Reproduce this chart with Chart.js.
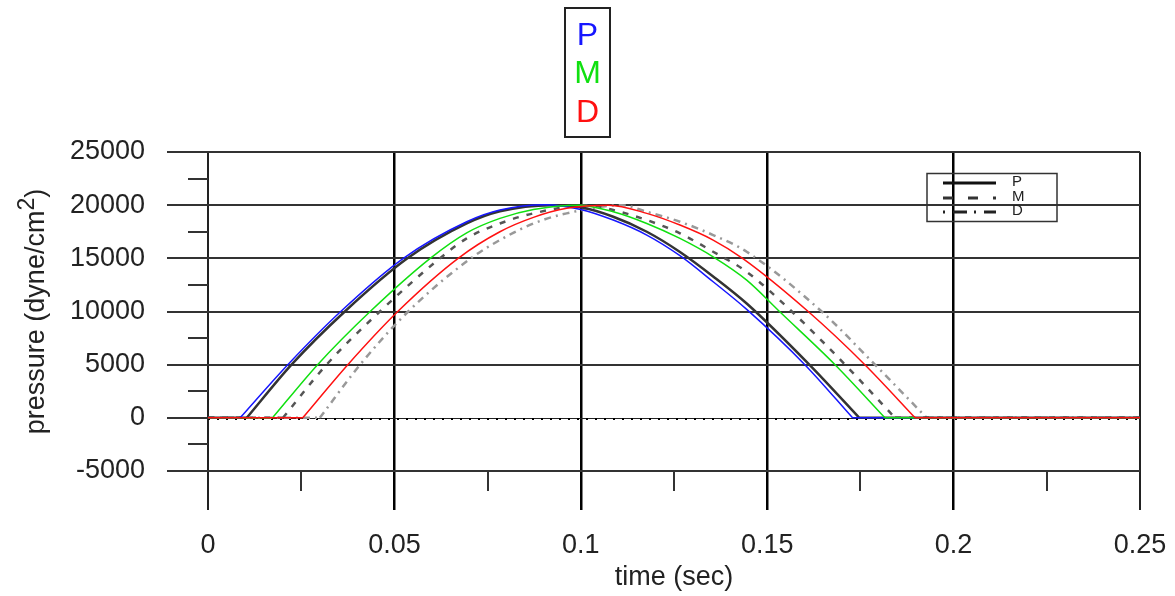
<!DOCTYPE html>
<html>
<head>
<meta charset="utf-8">
<title>pressure pulses</title>
<script src="https://cdn.jsdelivr.net/npm/chart.js@4.4.1/dist/chart.umd.min.js"></script>
<style>
    html, body { margin: 0; padding: 0; background: #fff; }
</style>
</head>
<body>
<canvas id="pulseChart" width="1175" height="596"></canvas>
<script>
// Druckpulse (Zeit in s, Druck in dyne/cm^2)
// farbige Kurven: P, M, D
const tBlauP  = [0.0086, 0.0214, 0.0356, 0.0524, 0.0694, 0.0783, 0.0905, 0.1000, 0.1087, 0.1177, 0.1266, 0.1355, 0.1445, 0.1601, 0.1729];
const pBlauP  = [0, 5000, 10000, 15000, 18440, 19540, 20050, 19600, 18600, 17190, 15250, 12800, 10200, 5000, 0];
const tGruenM = [0.0173, 0.0294, 0.0435, 0.0596, 0.0694, 0.0783, 0.0873, 0.0995, 0.1087, 0.1177, 0.1266, 0.1355, 0.1445, 0.1533, 0.1682, 0.1816];
const pGruenM = [0, 5000, 10000, 15000, 17400, 18760, 19600, 20000, 19380, 18280, 16870, 15140, 12950, 10000, 5000, 0];
const tRotD   = [0.0254, 0.0375, 0.0509, 0.0671, 0.0783, 0.0873, 0.0962, 0.1075, 0.1177, 0.1266, 0.1355, 0.1434, 0.1610, 0.1762, 0.1897];
const pRotD   = [0, 5000, 10000, 15000, 17500, 18850, 19700, 20000, 19230, 18130, 16720, 15000, 10000, 5000, 0];

// graue Kurven: P (durchgezogen), M (gestrichelt), D (strichpunktiert)
const tGrauP = [0.0104, 0.0224, 0.0367, 0.0535, 0.0694, 0.0783, 0.0920, 0.1000, 0.1087, 0.1177, 0.1266, 0.1355, 0.1445, 0.1613, 0.1747];
const pGrauP = [0, 5000, 10000, 15000, 18280, 19420, 20000, 19800, 18910, 17500, 15600, 13300, 10750, 5000, 0];
const tGrauM = [0.0201, 0.0318, 0.0461, 0.0622, 0.0694, 0.0783, 0.0873, 0.1020, 0.1087, 0.1177, 0.1266, 0.1355, 0.1445, 0.1566, 0.1709, 0.1843];
const pGrauM = [0, 5000, 10000, 15000, 16880, 18280, 19230, 20000, 19540, 18600, 17350, 15620, 13730, 10000, 5000, 0];
const tGrauD = [0.0300, 0.0408, 0.0537, 0.0705, 0.0783, 0.0873, 0.0962, 0.1110, 0.1177, 0.1266, 0.1355, 0.1445, 0.1646, 0.1789, 0.1928];
const pGrauD = [0, 5000, 10000, 15000, 16720, 18280, 19230, 20000, 19380, 18440, 17190, 15620, 10000, 5000, 0];

// Achsen
const xMin = 0, xMax = 0.25, xStep = 0.025, xMajor = 0.05;
const yMin = -5000, yMax = 25000, yStep = 2500, yMajor = 5000;
const xTitel = "time (sec)";
const yTitelTeile = ["pressure (dyne/cm", "2", ")"];
const legendeNamen = ["P", "M", "D"];
const legendeFarben = ["#1616ff", "#10e010", "#ff1010"];

const FONT = "'Liberation Sans', Arial, sans-serif";

/**
 * Baut die Punktliste eines Pulses: Nulllinie vorn und hinten,
 * dazwischen eine Lücke, damit Anfang und Ende als Knick erhalten bleiben.
 */
function pulsDaten(zeiten, werte) {
    const t0 = zeiten[0];
    const t1 = zeiten[zeiten.length - 1];
    const daten = [{ x: xMin, y: 0 }, { x: t0, y: 0 }, { x: t0, y: null }];
    zeiten.forEach((t, i) => daten.push({ x: t, y: werte[i] }));
    daten.push({ x: t1, y: null }, { x: t1, y: 0 }, { x: xMax, y: 0 });
    return daten;
}

function istMajor(v, schritt) {
    return Math.abs(v / schritt - Math.round(v / schritt)) < 1e-6;
}

function istRand(v) {
    return Math.abs(v - xMin) < 1e-6 || Math.abs(v - xMax) < 1e-6;
}

// Nebenstriche, gepunktete Nulllinie
const nebenStriche = {
    id: "nebenStriche",
    beforeDatasetsDraw(chart) {
        const { ctx, chartArea, scales } = chart;
        ctx.save();
        ctx.strokeStyle = "#333";
        ctx.lineWidth = 2;
        ctx.beginPath();
        scales.y.ticks.forEach(tick => {
            if (istMajor(tick.value, yMajor)) return;
            const py = Math.round(scales.y.getPixelForValue(tick.value));
            ctx.moveTo(chartArea.left - 20, py);
            ctx.lineTo(chartArea.left, py);
        });
        scales.x.ticks.forEach(tick => {
            if (istMajor(tick.value, xMajor)) return;
            const px = Math.round(scales.x.getPixelForValue(tick.value));
            ctx.moveTo(px, chartArea.bottom);
            ctx.lineTo(px, chartArea.bottom + 20);
        });
        ctx.stroke();

        // Nulllinie: dünne Linie mit kleinen Punkten darunter
        const y0 = Math.round(scales.y.getPixelForValue(0));
        ctx.strokeStyle = "#222";
        ctx.lineWidth = 1;
        ctx.beginPath();
        ctx.moveTo(chartArea.left, y0 + 0.5);
        ctx.lineTo(chartArea.right, y0 + 0.5);
        ctx.stroke();
        ctx.strokeStyle = "#000";
        ctx.lineWidth = 2;
        ctx.setLineDash([2, 7]);
        ctx.beginPath();
        ctx.moveTo(chartArea.left, y0 + 1);
        ctx.lineTo(chartArea.right, y0 + 1);
        ctx.stroke();
        ctx.restore();
    }
};

// y-Titel mit hochgestellter 2, Legenden oben und rechts
const beschriftung = {
    id: "beschriftung",
    afterDraw(chart) {
        const { ctx, chartArea } = chart;
        ctx.save();

        // y-Achsentitel
        ctx.translate(37, (chartArea.top + chartArea.bottom) / 2);
        ctx.rotate(-Math.PI / 2);
        ctx.fillStyle = "#222";
        ctx.textBaseline = "middle";
        ctx.textAlign = "left";
        ctx.font = "27px " + FONT;
        const w1 = ctx.measureText(yTitelTeile[0]).width;
        const w3 = ctx.measureText(yTitelTeile[2]).width;
        ctx.font = "23px " + FONT;
        const w2 = ctx.measureText(yTitelTeile[1]).width;
        let x = -(w1 + w2 + w3) / 2;
        ctx.font = "27px " + FONT;
        ctx.fillText(yTitelTeile[0], x, 0);
        x += w1;
        ctx.font = "23px " + FONT;
        ctx.fillText(yTitelTeile[1], x, -9);
        x += w2;
        ctx.font = "27px " + FONT;
        ctx.fillText(yTitelTeile[2], x, 0);
        ctx.setTransform(1, 0, 0, 1, 0, 0);

        // Kasten oben mit farbigen Namen
        ctx.strokeStyle = "#222";
        ctx.lineWidth = 2;
        ctx.strokeRect(565, 8, 45, 129);
        ctx.font = "32px " + FONT;
        ctx.textAlign = "center";
        ctx.textBaseline = "alphabetic";
        legendeNamen.forEach((name, i) => {
            ctx.fillStyle = legendeFarben[i];
            ctx.fillText(name, 587.5, 45 + i * 38.3);
        });

        // Legende rechts mit Linienarten
        ctx.lineWidth = 1.5;
        ctx.strokeStyle = "#333";
        ctx.strokeRect(927, 173.5, 130, 48);
        const muster = [[], [10, 15], [2, 8, 14, 7]];
        const farben = ["#111", "#333", "#222"];
        const zeilenY = [183, 198, 212];
        ctx.font = "15px " + FONT;
        ctx.textAlign = "left";
        ctx.textBaseline = "middle";
        legendeNamen.forEach((name, i) => {
            ctx.setLineDash(muster[i]);
            ctx.strokeStyle = farben[i];
            ctx.lineWidth = 3;
            ctx.beginPath();
            ctx.moveTo(943, zeilenY[i]);
            ctx.lineTo(996, zeilenY[i]);
            ctx.stroke();
            ctx.setLineDash([]);
            ctx.fillStyle = "#222";
            ctx.fillText(name, 1012, zeilenY[i] - 1);
        });
        ctx.restore();
    }
};

function linie(daten, farbe, breite, strich) {
    return {
        data: daten,
        borderColor: farbe,
        borderWidth: breite,
        borderDash: strich || [],
        pointRadius: 0,
        fill: false,
        spanGaps: false,
        cubicInterpolationMode: "monotone"
    };
}

function initChart() {
    const canvas = document.getElementById("pulseChart");
    const ctx = canvas.getContext("2d");

    // erster Datensatz liegt oben
    const datasets = [
        linie(pulsDaten(tRotD, pRotD), "#ff1010", 1.5),
        linie(pulsDaten(tGruenM, pGruenM), "#10e010", 1.5),
        linie(pulsDaten(tBlauP, pBlauP), "#1616ff", 1.5),
        linie(pulsDaten(tGrauP, pGrauP), "#333", 2.5),
        linie(pulsDaten(tGrauM, pGrauM), "#555", 2.5, [6, 8]),
        linie(pulsDaten(tGrauD, pGrauD), "#999", 2.5, [7, 5, 2, 5])
    ];

    new Chart(ctx, {
        type: "line",
        data: { datasets: datasets },
        options: {
            responsive: false,
            animation: false,
            events: [],
            layout: { padding: { left: 0, top: 152, right: 35, bottom: 0 } },
            plugins: {
                legend: { display: false },
                tooltip: { enabled: false }
            },
            scales: {
                x: {
                    type: "linear",
                    min: xMin,
                    max: xMax,
                    afterFit: scale => {
                        scale.height = 125;
                        scale.paddingLeft = 0;
                        scale.paddingRight = 0;
                    },
                    border: { display: false },
                    grid: {
                        color: c => istMajor(c.tick.value, xMajor)
                            ? (istRand(c.tick.value) ? "#222" : "#000")
                            : "rgba(0,0,0,0)",
                        lineWidth: c => istRand(c.tick.value) ? 2 : 2.5,
                        tickLength: 39
                    },
                    ticks: {
                        stepSize: xStep,
                        autoSkip: false,
                        maxRotation: 0,
                        padding: 19,
                        color: "#222",
                        font: { family: FONT, size: 27 },
                        callback: v => istMajor(v, xMajor) ? String(+v.toFixed(2)) : ""
                    },
                    title: {
                        display: true,
                        text: xTitel,
                        color: "#222",
                        font: { family: FONT, size: 27 },
                        padding: { top: 0, bottom: 2 }
                    }
                },
                y: {
                    min: yMin,
                    max: yMax,
                    afterFit: scale => { scale.width = 208; },
                    border: { display: false },
                    grid: {
                        color: c => (istMajor(c.tick.value, yMajor) && c.tick.value !== 0) ? "#333" : "rgba(0,0,0,0)",
                        tickColor: c => istMajor(c.tick.value, yMajor) ? "#333" : "rgba(0,0,0,0)",
                        lineWidth: 2,
                        tickLength: 41
                    },
                    ticks: {
                        stepSize: yStep,
                        autoSkip: false,
                        padding: 22,
                        color: "#222",
                        font: { family: FONT, size: 27 },
                        callback: v => istMajor(v, yMajor) ? String(v) : ""
                    }
                }
            }
        },
        plugins: [nebenStriche, beschriftung]
    });
}

if (document.readyState === "loading") {
    document.addEventListener("DOMContentLoaded", initChart);
} else {
    initChart();
}
</script>
</body>
</html>
